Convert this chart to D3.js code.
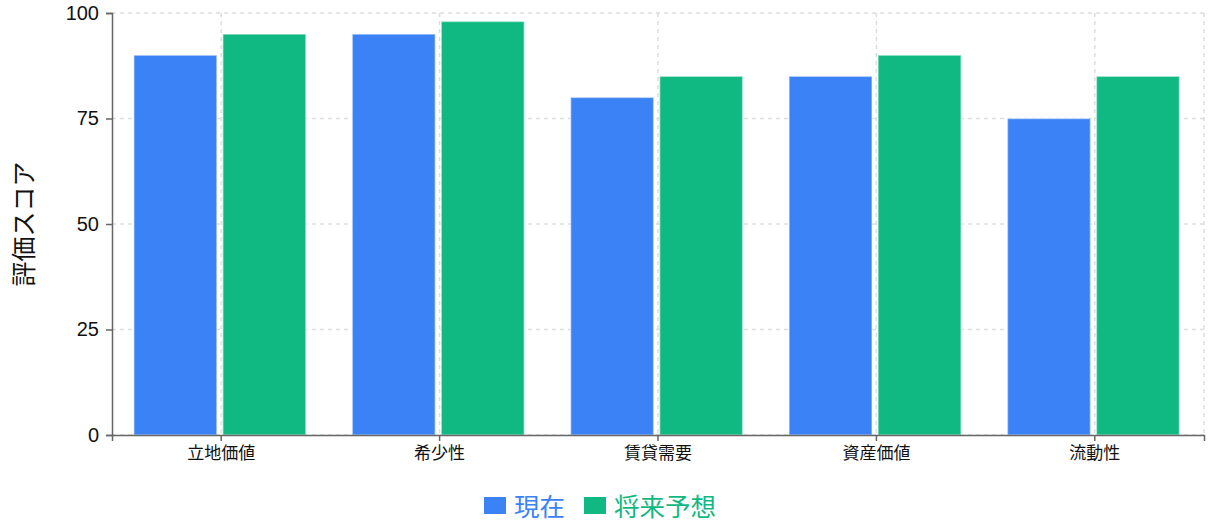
<!DOCTYPE html>
<html>
<head>
<meta charset="utf-8">
<script src="https://cdn.jsdelivr.net/npm/d3@7"></script>
<style>
  body { margin: 0; background: #fff; }
  text { font-family: "Noto Sans CJK JP", "Noto Sans", sans-serif; }
</style>
</head>
<body>
<div id="chart"></div>
<script>
// Data
const categories = ["立地価値", "希少性", "賃貸需要", "資産価値", "流動性"];
const currentScores = [90, 95, 80, 85, 75];
const futureScores = [95, 98, 85, 90, 85];
const seriesNames = ["現在", "将来予想"];
const seriesColors = ["#3b82f6", "#10b981"];
const yTicks = [0, 25, 50, 75, 100];

// 1. Setup
const width = 1222, height = 524;
const margin = { top: 13, right: 18, bottom: 89, left: 112 };

const svg = d3.select("#chart").append("svg")
    .attr("width", width)
    .attr("height", height);

// 2. Scales
const x = d3.scaleBand()
    .domain(categories)
    .range([margin.left, width - margin.right]);

// two bars of ~83px with a ~6px gap, 10% padding on the left
const x1 = d3.scaleBand()
    .domain(seriesNames)
    .range([x.bandwidth() * 0.1, x.bandwidth() * 0.1 + 172])
    .paddingInner(6 / 89);

const y = d3.scaleLinear()
    .domain([0, 100])
    .range([height - margin.bottom, margin.top]);

// 3. Grid
const grid = svg.append("g")
    .attr("stroke", "#ddd")
    .attr("stroke-width", 1.5)
    .attr("stroke-dasharray", "4 4");

grid.selectAll("line.h")
    .data(yTicks)
    .join("line")
    .attr("x1", margin.left)
    .attr("x2", width - margin.right)
    .attr("y1", d => y(d))
    .attr("y2", d => y(d));

grid.selectAll("line.v")
    .data(categories.map(c => x(c) + x.bandwidth() / 2).concat([width - margin.right]))
    .join("line")
    .attr("x1", d => d)
    .attr("x2", d => d)
    .attr("y1", margin.top)
    .attr("y2", height - margin.bottom);

// 4. Bars
const groups = svg.append("g")
    .selectAll("g")
    .data(categories)
    .join("g")
    .attr("transform", d => `translate(${x(d)},0)`);

groups.selectAll("rect")
    .data((d, i) => [currentScores[i], futureScores[i]].map((v, k) => ({ key: seriesNames[k], value: v, k })))
    .join("rect")
    .attr("x", d => x1(d.key))
    .attr("width", x1.bandwidth())
    .attr("y", d => y(d.value))
    .attr("height", d => y(0) - y(d.value))
    .attr("fill", d => seriesColors[d.k])
    .attr("stroke", "rgba(255,255,255,0.45)")
    .attr("stroke-width", 1.5);

// 5. Axes
const xAxis = svg.append("g")
    .attr("transform", `translate(0,${height - margin.bottom})`)
    .call(d3.axisBottom(x).tickSizeOuter(0).tickSize(6).tickPadding(6));

const yAxis = svg.append("g")
    .attr("transform", `translate(${margin.left},0)`)
    .call(d3.axisLeft(y).tickValues(yTicks).tickSizeOuter(0).tickSize(6).tickPadding(7));

[xAxis, yAxis].forEach(a => {
    a.select(".domain").attr("stroke", "#666").attr("stroke-width", 1.5);
    a.selectAll(".tick line").attr("stroke", "#666").attr("stroke-width", 1.5);
    a.selectAll(".tick text").attr("fill", "#111");
});
xAxis.selectAll(".tick text").style("font-size", "17px");
// digits in a font with a smaller ascent so "100" stays inside the top edge
yAxis.selectAll(".tick text")
    .style("font-size", "20px")
    .style("font-family", "'Liberation Sans', Arial, sans-serif");

// Y label
svg.append("text")
    .attr("transform", `translate(22,${(margin.top + height - margin.bottom) / 2}) rotate(-90)`)
    .attr("text-anchor", "middle")
    .attr("dominant-baseline", "central")
    .attr("font-size", "25px")
    .attr("fill", "#111")
    .text("評価スコア");

// 6. Legend
const legend = svg.append("g");
let lx = 484;
seriesNames.forEach((name, i) => {
    legend.append("rect")
        .attr("x", lx)
        .attr("y", 497)
        .attr("width", 22)
        .attr("height", 17)
        .attr("fill", seriesColors[i]);
    const t = legend.append("text")
        .attr("x", lx + 30)
        .attr("y", 504)
        .attr("dominant-baseline", "central")
        .attr("font-size", "25.5px")
        .attr("fill", seriesColors[i])
        .text(name);
    lx += 30 + t.node().getComputedTextLength() + 19;
});
</script>
</body>
</html>
